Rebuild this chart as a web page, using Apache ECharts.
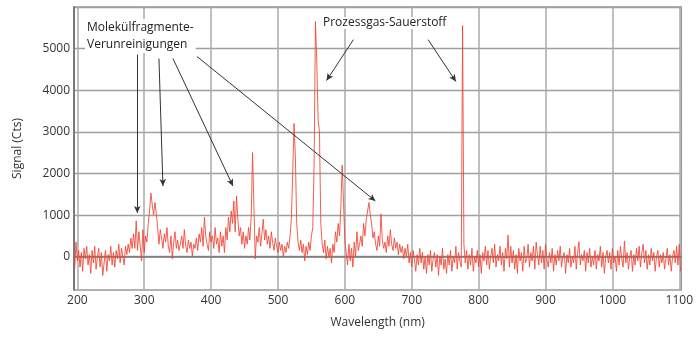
<!DOCTYPE html>
<html>
<head>
<meta charset="utf-8">
<script src="https://cdn.jsdelivr.net/npm/echarts@6/dist/echarts.min.js"></script>
<style>html,body{margin:0;padding:0;background:#fff}#c{width:696px;height:338px}</style>
</head>
<body>
<div id="c"></div>
<script>
// wavelength grid: first point and spacing (nm)
const startNm = 196;
const stepNm = 2;
// signal values (Cts), one per grid point
const signal = [
-300,350,-100,150,-250,100,-350,200,-50,250,
-200,50,-400,150,-150,250,-300,0,200,-250,
100,-450,-150,150,-350,50,-100,250,-200,100,
-250,150,-50,300,-150,200,0,-200,250,50,
300,100,450,200,550,200,860,150,600,250,
-100,650,100,500,350,800,1100,1530,1250,1000,
1300,1050,700,300,650,450,200,550,350,700,
250,100,500,-50,350,600,200,400,150,300,
500,200,650,250,100,400,200,350,0,300,
200,450,150,550,350,700,250,950,500,300,
150,600,350,500,200,700,300,450,100,600,
250,500,100,700,400,950,600,1100,800,1340,
600,1460,900,500,700,300,600,200,500,300,
700,400,1000,2500,1200,-50,500,350,700,250,
550,900,400,650,300,500,200,600,350,150,
450,250,100,350,150,300,0,250,100,350,
200,500,900,2000,3200,2400,800,350,150,400,
100,300,-100,250,50,350,150,500,700,2200,
5650,4700,3300,3000,800,300,100,400,-50,250,
0,200,-150,300,100,600,350,800,500,1200,
2200,1300,400,100,-200,300,-100,200,-250,350,
0,600,150,300,500,250,800,500,900,1100,
1300,1000,800,450,600,300,150,500,250,1030,
400,200,350,100,500,250,650,300,150,450,
200,350,50,300,100,250,-50,200,0,300,
-150,100,-250,150,-50,-350,50,-200,200,-150,
100,-300,0,-400,50,-200,150,-350,-50,100,
-250,50,-450,0,-200,200,-300,-50,-400,50,
-200,150,-350,0,-150,250,-300,100,-100,-250,
5550,300,-150,150,-300,50,-200,200,-350,0,
-150,150,-250,50,-400,100,-100,250,-200,150,
-300,0,200,-150,300,-250,50,-100,250,-200,
100,-350,200,-50,520,-250,250,-150,150,-300,
50,-400,200,-100,100,-350,250,-150,-50,300,
-250,100,-100,250,-300,350,50,-200,250,-150,
150,-300,300,-50,-250,100,-150,200,-350,50,
-200,150,-100,250,-250,0,100,-400,50,-150,
200,-250,0,-150,250,-300,100,360,-200,50,
-100,150,-350,100,-150,200,-250,0,-200,150,
-300,50,-100,250,-250,100,-400,0,150,-150,
100,-300,200,-150,0,-350,150,-200,250,-50,
-250,380,-150,100,-300,0,150,-350,50,-200,
200,-100,250,-250,100,300,-150,150,-300,50,
-200,200,-100,100,-350,0,150,-250,50,-150,
100,-300,-50,200,-200,50,-350,0,150,-150,
250,-200,300,-350
];
// axis tick labels
const xTicks = [200,300,400,500,600,700,800,900,1000,1100];
const yTicks = [0,1000,2000,3000,4000,5000];
const yGrid = [0,1000,2000,3000,4000,5000,6000];
// annotation arrows: [from [nm, Cts], to [nm, Cts]]
const arrows = [
  [[289.6,4856],[289.6,1053]],
  [[322,4761],[328,1700]],
  [[343,4761],[432.6,1700]],
  [[379,4809],[645.6,1340]],
  [[612.8,5215],[572.6,4234]],
  [[724.5,5215],[766,4210]]
];
const labelGroup1 = ['Molekülfragmente-','Verunreinigungen'];
const labelGroup2 = 'Prozessgas-Sauerstoff';

const points = signal.map((v,i)=>[startNm + i*stepNm, v]);

const chart = echarts.init(document.getElementById('c'), null, {renderer:'canvas'});
const font = '"Open Sans", "Liberation Sans", sans-serif';
chart.setOption({
  animation:false,
  grid:{left:74,right:13,top:7,bottom:48,show:true,borderColor:'#999',borderWidth:1.5,backgroundColor:'#fff'},
  xAxis:{
    type:'value',min:195,max:1103,
    name:'Wavelength (nm)',nameLocation:'middle',nameGap:27,
    nameTextStyle:{fontFamily:font,fontSize:12,color:'#333'},
    axisLine:{show:true,lineStyle:{color:'#777',width:1.5}},
    axisTick:{show:false,customValues:xTicks},
    axisLabel:{customValues:xTicks,formatter:v=>String(v),fontFamily:font,fontSize:12,color:'#333',margin:5},
    splitLine:{show:true,lineStyle:{color:'#aaa',width:1.5}}
  },
  yAxis:{
    type:'value',min:-800,max:6000,
    name:'Signal (Cts)',nameLocation:'middle',nameGap:50,
    nameTextStyle:{fontFamily:font,fontSize:12,color:'#333'},
    axisLine:{show:true,lineStyle:{color:'#666',width:1.5}},
    axisTick:{show:false,customValues:yGrid},
    axisLabel:{customValues:yTicks,formatter:v=>String(v),fontFamily:font,fontSize:12,color:'#333',margin:4},
    splitLine:{show:true,lineStyle:{color:'#a0a0a0',width:1.3}}
  },
  series:[{
    type:'line',data:points,symbol:'none',
    lineStyle:{color:'#f04434',width:1,opacity:0.85},
    z:3,
    markLine:{
      silent:true,symbol:['none','arrow'],symbolSize:[5,7],
      label:{show:false},
      lineStyle:{color:'#333',width:1,type:'solid'},
      data:arrows.map(a=>[{coord:a[0]},{coord:a[1]}])
    }
  }],
  graphic:[
    {type:'text',left:85,top:19,z:10,style:{text:labelGroup1.join('\n'),font:'12px '+font,fill:'#222',lineHeight:17,backgroundColor:'#fff',padding:[0,2]}},
    {type:'text',left:321,top:17,z:10,style:{text:labelGroup2,font:'12px '+font,fill:'#222',backgroundColor:'#fff',padding:[0,2]}}
  ]
});
</script>
</body>
</html>
